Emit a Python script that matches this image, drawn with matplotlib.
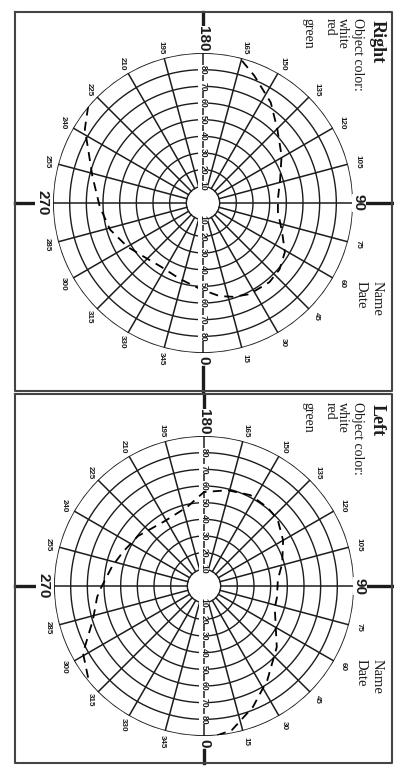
import numpy as np
import matplotlib
matplotlib.use('Agg')
import matplotlib.pyplot as plt

W, H = 394, 771

# ── chart values ──────────────────────────────────────────────────────────────
RINGS = [10, 20, 30, 40, 50, 60, 70, 80, 90]
SPOKES = list(range(0, 360, 15))
RING_LABELS = [10, 20, 30, 40, 50, 60, 70, 80]

# right eye isopter (degrees meridian, degrees eccentricity)
right_theta = [-130, -122, -115, -104, -88, -74, -60, -48, -34, -17, -2,
               10, 18, 27, 40, 49, 59, 70, 83, 93, 107, 121, 135, 146, 158, 166]
right_r = [90, 83.6, 76, 68.5, 62, 58, 52.4, 48, 45.8, 47.6, 51.6,
           56.7, 59.2, 61.4, 62, 60.8, 57.3, 50.5, 45.3, 45, 48.4, 55, 63, 72.7, 82.3, 90]

# left eye isopter
left_theta = [5, 11, 22, 34, 50, 73, 81, 95, 106, 120, 132, 141, 153, 166, 180,
              192, 211, 233, 247, 258, 272, 276, 287, 299, 310]
left_r = [90, 88, 78.3, 68, 57, 44.4, 44.3, 44.5, 48.8, 54.8, 59.5, 60.6, 61.2, 59.2, 56.4,
          48.5, 45.5, 49.7, 52.7, 56.4, 62.4, 64.5, 69.7, 83, 90]

legend_lines = ['Object color:', 'white', 'red', 'green']

INK = '#1c1c1c'
SERIF = ['Liberation Serif', 'DejaVu Serif']
SANS = ['Liberation Sans', 'DejaVu Sans']

fig = plt.figure(figsize=(W / 100, H / 100), dpi=100)
fig.patch.set_facecolor('white')

# overlay in pixel coordinates for frames, axis stubs and headings
ov = fig.add_axes([0, 0, 1, 1])
ov.set_xlim(0, W)
ov.set_ylim(H, 0)
ov.axis('off')


def chart(cx, cy, eye, theta, rr, head_y, name_y, top, bottom):
    R = 150
    ax = fig.add_axes([(cx - R) / W, (H - cy - R) / H, 2 * R / W, 2 * R / H],
                      projection='polar')
    ax.set_theta_zero_location('S')
    ax.set_theta_direction(1)
    ax.set_ylim(0, 90)
    ax.grid(False)
    ax.set_xticks([])
    ax.set_yticks([])
    ax.spines['polar'].set_visible(False)
    ax.patch.set_alpha(0)

    th = np.linspace(0, 2 * np.pi, 400)
    for r in RINGS:
        ax.plot(th, np.full_like(th, r), color=INK, lw=1.0 if r < 90 else 1.3)
    for s in SPOKES:
        ax.plot([np.radians(s)] * 2, [10, 90], color=INK, lw=1.1)

    # meridian labels round the rim
    for s in SPOKES:
        if s % 90 == 0:
            continue
        ax.text(np.radians(s), 96.5, str(s), rotation=270, ha='center', va='center',
                fontsize=5.8, fontweight='bold', family=SANS, color=INK, clip_on=False)
    big = {0: 94.5, 90: 93.5, 180: 98.5, 270: 96.5}
    for s, rpos in big.items():
        ax.text(np.radians(s), rpos, str(s), rotation=270, ha='center', va='center',
                fontsize=11, fontweight='bold', family=SANS, color=INK, clip_on=False,
                bbox=dict(facecolor='white', edgecolor='none', pad=0.2))

    # eccentricity labels along the vertical meridian
    for v in RING_LABELS:
        for s in (0, 180):
            ax.text(np.radians(s), v, str(v), rotation=270, ha='center', va='center',
                    fontsize=6.2, fontweight='bold', family=SANS, color=INK,
                    bbox=dict(facecolor='white', edgecolor='none', pad=0.1))

    ax.plot(np.radians(theta), rr, color='black', lw=1.3, ls=(0, (5, 3.5)))

    # axis stubs out to the frame
    ov.plot([cx, cx], [top, cy - R - 24], color=INK, lw=2.4)
    ov.plot([cx, cx], [cy + R + 14, bottom], color=INK, lw=2.4)
    ov.plot([15, cx - R - 12], [cy, cy], color=INK, lw=2.4)
    ov.plot([cx + R + 14, 392], [cy, cy], color=INK, lw=2.4)

    # headings
    ov.text(377, head_y + 2, eye, rotation=270, ha='center', va='top',
            fontsize=13, fontweight='bold', family=SERIF, color=INK)
    xs = [358, 342, 330, 308]
    for x, t in zip(xs, legend_lines):
        ov.text(x, head_y, t, rotation=270, ha='center', va='top',
                fontsize=10, family=SERIF, color=INK)
    ov.text(377, name_y, 'Name', rotation=270, ha='center', va='top',
            fontsize=10.5, family=SERIF, color=INK)
    ov.text(361, name_y, 'Date', rotation=270, ha='center', va='top',
            fontsize=10.5, family=SERIF, color=INK)

    # panel frame
    ov.plot([15, 392, 392, 15, 15], [top, top, bottom, bottom, top], color='#444', lw=1.5)


chart(203, 203, 'Right', right_theta, right_r, 18, 281, 12, 391)
chart(204, 586, 'Left', left_theta, left_r, 402, 659, 394, 763)

fig.savefig('out.png', dpi=100, facecolor='white')
